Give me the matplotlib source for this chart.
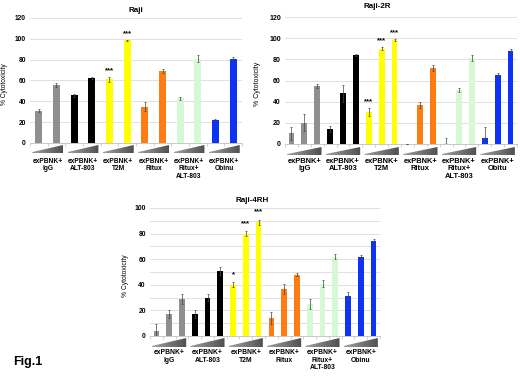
import numpy as np
import matplotlib
matplotlib.use("Agg")
import matplotlib.pyplot as plt
from matplotlib.patches import Polygon
from matplotlib.colors import LinearSegmentedColormap
from matplotlib.transforms import blended_transform_factory

plt.rcParams['font.family'] = ['Liberation Sans', 'DejaVu Sans']
plt.rcParams['font.weight'] = 'bold'

# group labels
groups = ["exPBNK+\nIgG", "exPBNK+\nALT-803", "exPBNK+\nT2M", "exPBNK+\nRitux",
          "exPBNK+\nRitux+\nALT-803", "exPBNK+\nObinu"]
groups_2r = ["exPBNK+\nIgG", "exPBNK+\nALT-803", "exPBNK+\nT2M", "exPBNK+\nRitux",
             "exPBNK+\nRitux+\nALT-803", "exPBNK+\nObitu"]
group_colors = ['#8f8f8f', '#000000', '#ffff00', '#ff7c12', '#d5f8d5', '#0d34f5']

# Raji (2 doses per group)
raji_vals = [31, 56, 46, 62.5, 61, 98.5, 35, 69.5, 43, 81, 22, 81]
raji_errs = [1.5, 2, 1.5, 1, 2, 0.5, 4, 2, 1.5, 3, 1.5, 1.5]
raji_stars = {4: '***', 5: '***'}

# Raji-2R (3 doses per group)
r2_vals = [10, 20, 55, 14, 48, 84, 30, 90, 98, 0, 37, 72, 0.5, 51, 81, 6, 65, 88]
r2_errs = [6, 8, 2, 3, 8, 1, 4, 1.5, 1, 0, 3, 3, 5, 2, 3, 10, 2, 2]
r2_stars = {6: '***', 7: '***', 8: '***'}

# Raji-4RH (3 doses per group)
r4_vals = [4, 17, 29, 17, 30, 51, 40, 80, 89, 14, 37, 48, 25, 41, 62, 31, 62, 74]
r4_errs = [5, 3, 4, 3, 3, 3, 2, 2, 2, 5, 4, 1, 4, 3, 2, 3, 1, 2]
r4_stars = {6: '*', 7: '***', 8: '***'}

W, H = 520, 376
fig = plt.figure(figsize=(5.2, 3.76), dpi=100)

wedge_cmap = LinearSegmentedColormap.from_list('wedge', ['#a0a0a0', '#505050'])


def panel(rect, wedge, label_top, title, title_xy, vals, errs, per, labels,
          ymax, minor, stars, bw, fs_tick, fs_lab, ylab_x):
    l, t, r, b = rect
    ax = fig.add_axes([l / W, 1 - b / H, (r - l) / W, (b - t) / H])
    n = len(vals)
    x = np.arange(n)
    cols = [group_colors[i // per] for i in range(n)]
    ax.bar(x, vals, width=bw, color=cols, zorder=3)
    ax.errorbar(x, vals, yerr=errs, fmt='none', ecolor='#444444',
                elinewidth=0.5, capsize=1, capthick=0.5, zorder=4)
    for i, s in stars.items():
        ax.text(x[i], vals[i] + errs[i] + 3, s, ha='center', va='bottom',
                fontsize=5.6, zorder=5)
    ax.set_xlim(-0.5, n - 0.5)
    ax.set_ylim(0, ymax)
    ax.set_yticks(np.arange(0, ymax + 1, 20))
    if minor:
        ax.set_yticks(np.arange(0, ymax + 1, 10), minor=True)
        ax.yaxis.grid(True, which='minor', color='#dcdcdc', lw=0.6)
    ax.yaxis.grid(True, which='major', color='#dcdcdc', lw=0.6)
    ax.set_axisbelow(True)
    ax.set_xticks(np.arange(-0.5, n, 1))
    ax.set_xticklabels([])
    ax.tick_params(axis='x', length=2, color='#bfbfbf', width=0.5)
    ax.tick_params(axis='y', which='both', length=0, pad=3, labelsize=fs_tick)
    for s in ['left', 'right', 'top']:
        ax.spines[s].set_visible(False)
    ax.spines['bottom'].set_color('#bfbfbf')
    ax.spines['bottom'].set_linewidth(0.6)
    ax.set_ylabel('% Cytotoxicity', fontsize=fs_tick)
    ax.yaxis.set_label_coords((ylab_x - l) / (r - l), 0.47)
    fig.text(title_xy[0] / W, 1 - title_xy[1] / H, title, ha='center',
             va='center', fontsize=5.8)

    # dose wedges under each group
    wt, wb = wedge
    wax = fig.add_axes([l / W, 1 - wb / H, (r - l) / W, (wb - wt) / H])
    grad = np.linspace(0, 1, 64).reshape(1, -1)
    gap = 0.12 * (per / 3 + 0.4)
    for g in range(len(labels)):
        x0 = g * per - 0.5 + gap
        x1 = (g + 1) * per - 0.5 - gap
        poly = Polygon([(x0, 0), (x1, 0), (x1, 1), (x0, 0.12)],
                       closed=True, fc='none', ec='none')
        wax.add_patch(poly)
        im = wax.imshow(grad, extent=[x0, x1, 0, 1], aspect='auto',
                        cmap=wedge_cmap, interpolation='bilinear')
        im.set_clip_path(poly)
    wax.set_xlim(-0.5, n - 0.5)
    wax.set_ylim(0, 1)
    wax.axis('off')

    trans = blended_transform_factory(ax.transData, fig.transFigure)
    for g, lab in enumerate(labels):
        cx = g * per + (per - 1) / 2
        ax.text(cx, 1 - label_top / H, lab, transform=trans, ha='center',
                va='top', fontsize=fs_lab, linespacing=1.1)
    return ax


panel((30, 18, 242, 143), (145, 153), 158, 'Raji', (136, 10),
      raji_vals, raji_errs, 2, groups, 120, False, raji_stars,
      0.4, 4.8, 4.8, 8)
panel((285, 17, 517, 144), (147, 155), 158, 'Raji-2R', (377, 7),
      r2_vals, r2_errs, 3, groups_2r, 120, False, r2_stars,
      0.45, 5.0, 5.4, 261)
panel((150, 208, 380, 336), (338, 347), 349, 'Raji-4RH', (252, 200),
      r4_vals, r4_errs, 3, groups, 100, True, r4_stars,
      0.45, 4.9, 4.9, 129)

fig.text(13 / W, 1 - 362 / H, 'Fig.1', fontsize=9, va='center', ha='left')

fig.savefig('out.png', dpi=100)
